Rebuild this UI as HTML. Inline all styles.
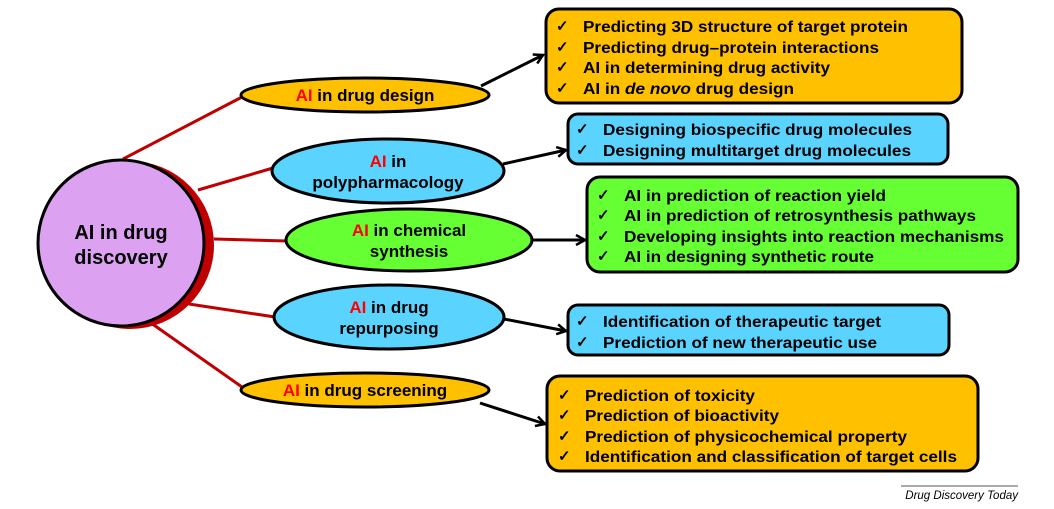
<!DOCTYPE html>
<html><head><meta charset="utf-8"><style>
html,body{margin:0;padding:0;background:#fff;}
svg{display:block;font-family:"Liberation Sans",Arial,sans-serif;}
.t{font-weight:bold;font-size:16px;fill:#000;}
.e{font-size:17px;}
.c{font-size:15px;fill:#000;font-weight:bold;}
.r{fill:#ff0000;}
</style></head><body>
<svg width="1054" height="509" viewBox="0 0 1054 509" xmlns="http://www.w3.org/2000/svg">
<defs>
<marker id="ah" markerWidth="12" markerHeight="12" refX="10" refY="6" orient="auto" markerUnits="userSpaceOnUse">
<path d="M1,1 L10,6 L1,11" fill="none" stroke="#000" stroke-width="2.5"/>
</marker>
</defs>
<g stroke="#c00000" stroke-width="3">
<line x1="123" y1="159" x2="242" y2="97"/>
<line x1="198" y1="190" x2="273" y2="168"/>
<line x1="214" y1="239" x2="287" y2="241"/>
<line x1="189" y1="304" x2="275" y2="317"/>
<line x1="151" y1="323" x2="242" y2="387"/>
</g>
<circle cx="130" cy="245" r="84" fill="#c00000"/>
<circle cx="121" cy="243" r="83" fill="#dda1f2" stroke="#000" stroke-width="3"/>
<text class="t" x="121" y="239" text-anchor="middle" style="font-size:20px">AI in drug</text>
<text class="t" x="121" y="264" text-anchor="middle" style="font-size:20px">discovery</text>
<g stroke="#000" stroke-width="3" marker-end="url(#ah)">
<line x1="481" y1="86" x2="543" y2="55"/>
<line x1="503" y1="164" x2="566" y2="150"/>
<line x1="532" y1="240" x2="585" y2="240"/>
<line x1="504" y1="319" x2="566" y2="331"/>
<line x1="480" y1="403" x2="545" y2="424"/>
</g>
<g stroke="#000" stroke-width="3">
<ellipse cx="365" cy="95" rx="124" ry="17" fill="#ffc000"/>
<ellipse cx="388" cy="171" rx="116" ry="32" fill="#5bd3ff"/>
<ellipse cx="409" cy="240" rx="123" ry="31" fill="#66ff33"/>
<ellipse cx="389" cy="317" rx="115" ry="32" fill="#5bd3ff"/>
<ellipse cx="365" cy="390" rx="124" ry="17" fill="#ffc000"/>
</g>
<g class="t e">
<text x="365" y="101" text-anchor="middle"><tspan class="r">AI</tspan> in drug design</text>
<text x="388" y="167" text-anchor="middle"><tspan class="r">AI</tspan> in</text>
<text x="388" y="188" text-anchor="middle">polypharmacology</text>
<text x="409" y="236" text-anchor="middle"><tspan class="r">AI</tspan> in chemical</text>
<text x="409" y="257" text-anchor="middle">synthesis</text>
<text x="389" y="313" text-anchor="middle"><tspan class="r">AI</tspan> in drug</text>
<text x="389" y="334" text-anchor="middle">repurposing</text>
<text x="365" y="396" text-anchor="middle"><tspan class="r">AI</tspan> in drug screening</text>
</g>
<g stroke="#000" stroke-width="3">
<rect x="546" y="9" width="416" height="94" rx="13" fill="#ffc000"/>
<rect x="568" y="114" width="380" height="50" rx="10" fill="#5bd3ff"/>
<rect x="587" y="177" width="431" height="95" rx="13" fill="#66ff33"/>
<rect x="568" y="305" width="381" height="50" rx="10" fill="#5bd3ff"/>
<rect x="547" y="376" width="431" height="95" rx="13" fill="#ffc000"/>
</g>
<g class="c">
<text x="556" y="31">✓</text><text x="556" y="52">✓</text><text x="556" y="72">✓</text><text x="556" y="93">✓</text>
<text x="576" y="134">✓</text><text x="576" y="155">✓</text>
<text x="597" y="200">✓</text><text x="597" y="220">✓</text><text x="597" y="241">✓</text><text x="597" y="261">✓</text>
<text x="576" y="326">✓</text><text x="576" y="347">✓</text>
<text x="558" y="400">✓</text><text x="558" y="420">✓</text><text x="558" y="441">✓</text><text x="558" y="461">✓</text>
</g>
<g class="t">
<text x="583" y="32" textLength="325" lengthAdjust="spacingAndGlyphs">Predicting 3D structure of target protein</text>
<text x="583" y="53" textLength="296" lengthAdjust="spacingAndGlyphs">Predicting drug–protein interactions</text>
<text x="583" y="73" textLength="247" lengthAdjust="spacingAndGlyphs">AI in determining drug activity</text>
<text x="583" y="94" textLength="211" lengthAdjust="spacingAndGlyphs">AI in <tspan font-style="italic">de novo</tspan> drug design</text>
<text x="603" y="135" textLength="309" lengthAdjust="spacingAndGlyphs">Designing biospecific drug molecules</text>
<text x="603" y="156" textLength="308" lengthAdjust="spacingAndGlyphs">Designing multitarget drug molecules</text>
<text x="624" y="201" textLength="262" lengthAdjust="spacingAndGlyphs">AI in prediction of reaction yield</text>
<text x="624" y="221" textLength="352" lengthAdjust="spacingAndGlyphs">AI in prediction of retrosynthesis pathways</text>
<text x="624" y="242" textLength="380" lengthAdjust="spacingAndGlyphs">Developing insights into reaction mechanisms</text>
<text x="624" y="262" textLength="250" lengthAdjust="spacingAndGlyphs">AI in designing synthetic route</text>
<text x="603" y="327" textLength="278" lengthAdjust="spacingAndGlyphs">Identification of therapeutic target</text>
<text x="603" y="348" textLength="274" lengthAdjust="spacingAndGlyphs">Prediction of new therapeutic use</text>
<text x="585" y="401" textLength="170" lengthAdjust="spacingAndGlyphs">Prediction of toxicity</text>
<text x="585" y="421" textLength="194" lengthAdjust="spacingAndGlyphs">Prediction of bioactivity</text>
<text x="585" y="442" textLength="322" lengthAdjust="spacingAndGlyphs">Prediction of physicochemical property</text>
<text x="585" y="462" textLength="372" lengthAdjust="spacingAndGlyphs">Identification and classification of target cells</text>
</g>
<line x1="901" y1="486" x2="1018" y2="486" stroke="#555" stroke-width="1"/>
<text x="1018" y="499" text-anchor="end" font-style="italic" font-size="11.5" fill="#000">Drug Discovery Today</text>
</svg>
</body></html>
